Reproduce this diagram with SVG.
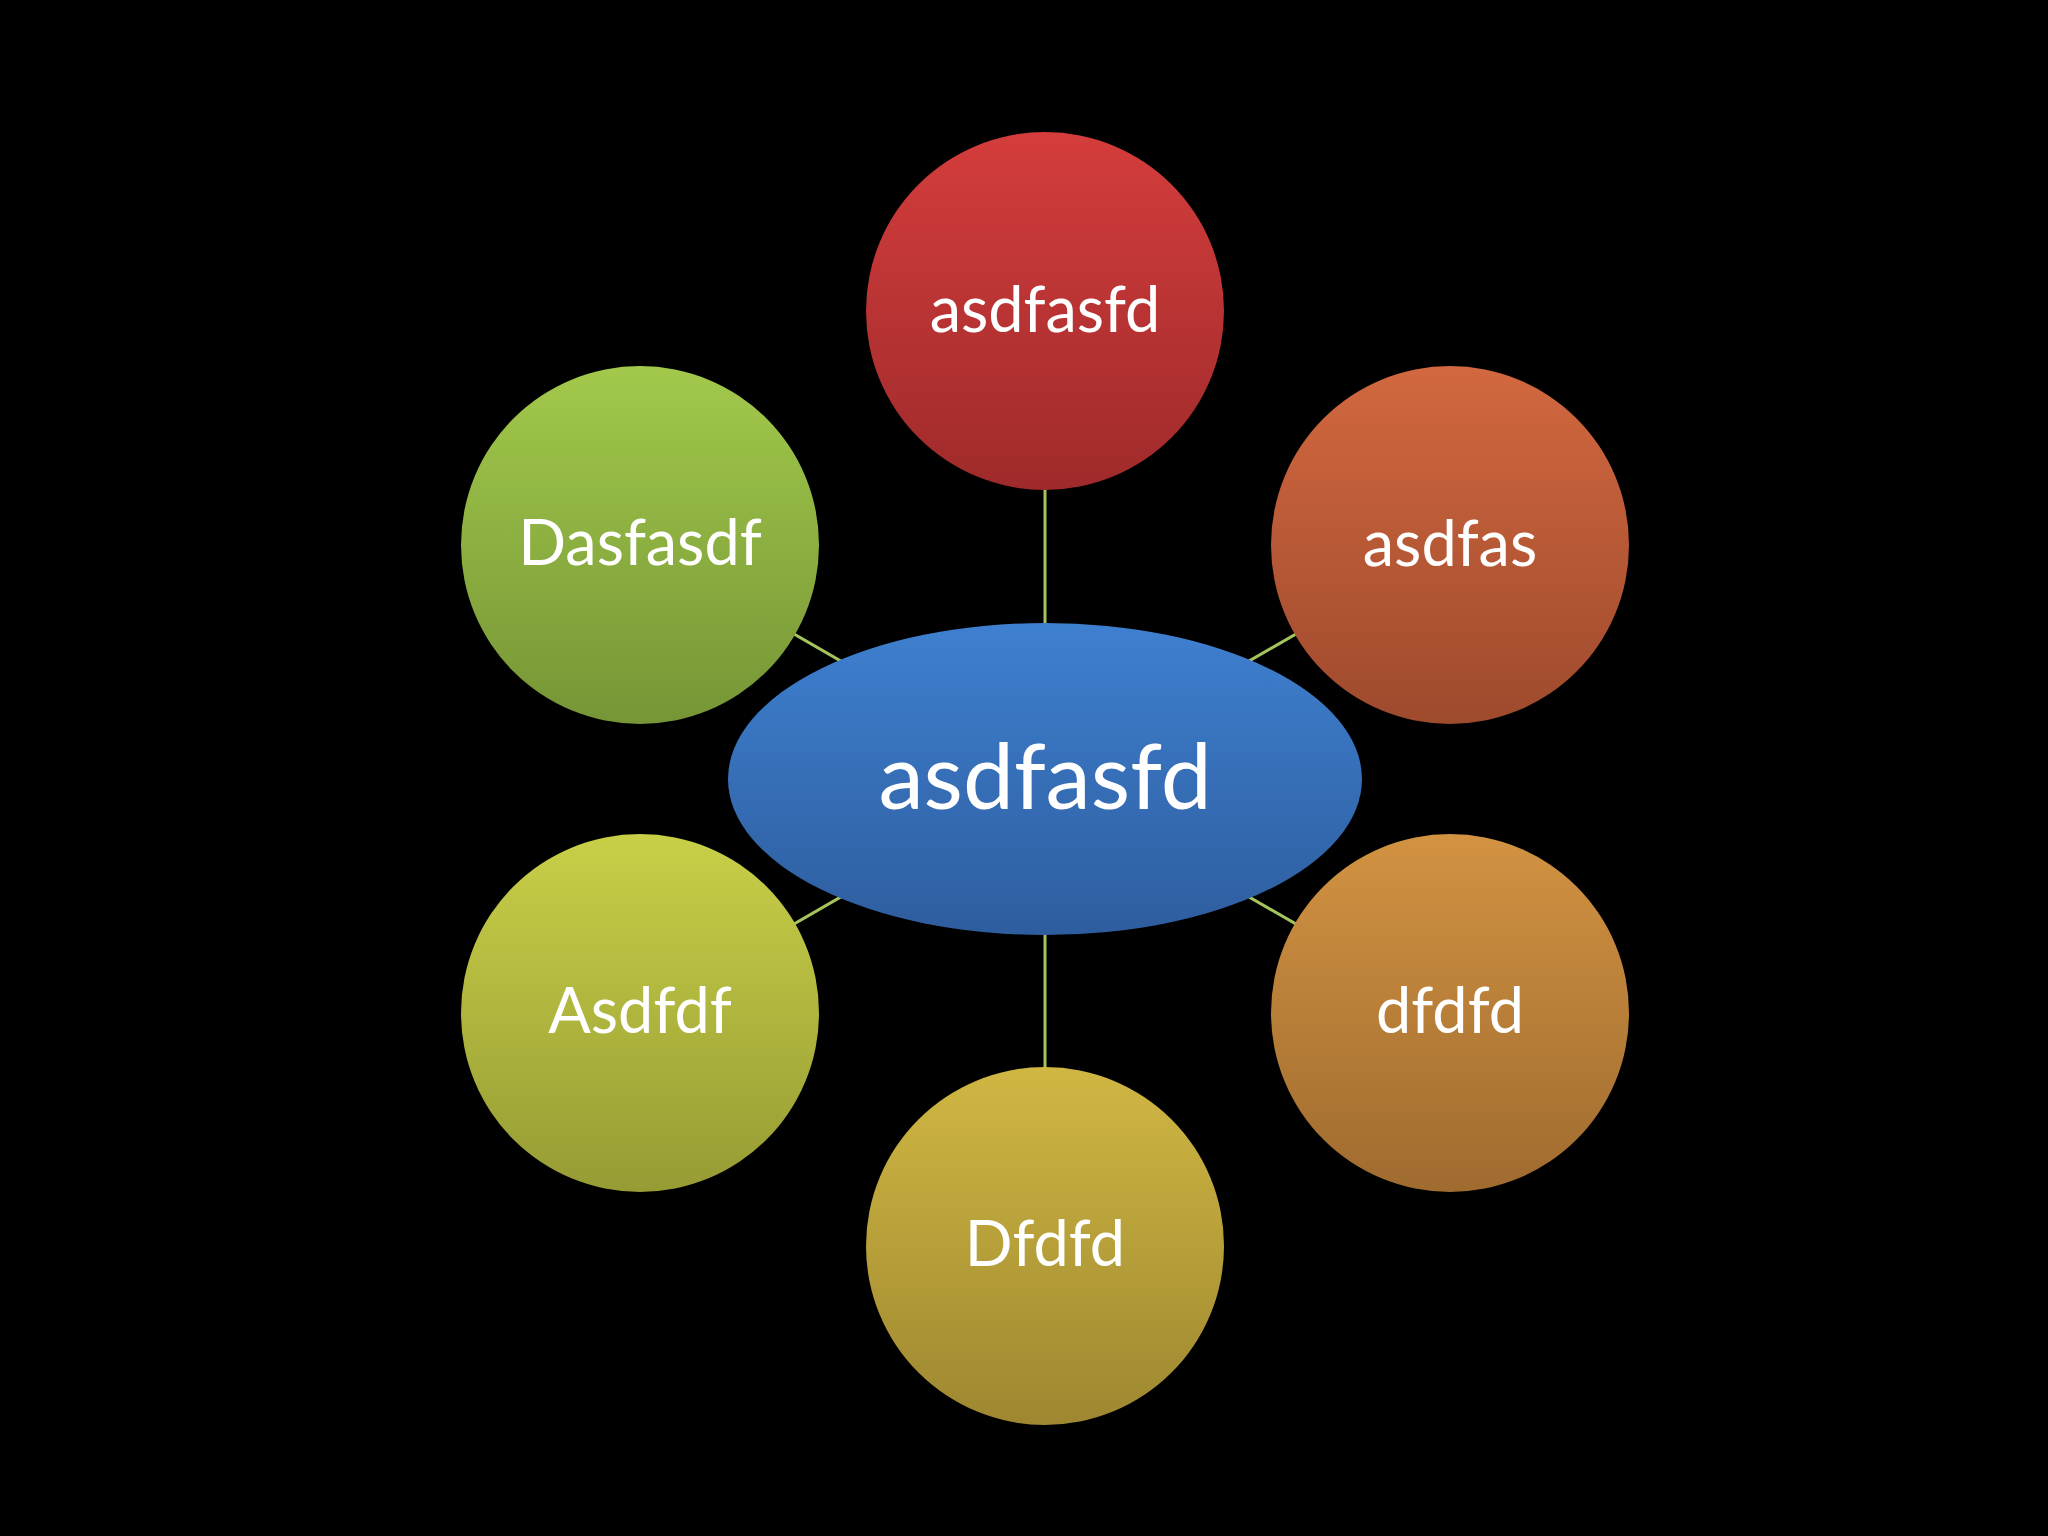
<svg xmlns="http://www.w3.org/2000/svg" width="2048" height="1536" viewBox="0 0 2048 1536">
<defs>
<linearGradient id="gBlue" x1="0" y1="0" x2="0" y2="1"><stop offset="0" stop-color="#3e80d0"/><stop offset="1" stop-color="#2e5d9e"/></linearGradient>
<linearGradient id="gRed" x1="0" y1="0" x2="0" y2="1"><stop offset="0" stop-color="#d43d3c"/><stop offset="1" stop-color="#9f2a2b"/></linearGradient>
<linearGradient id="gOrangeRed" x1="0" y1="0" x2="0" y2="1"><stop offset="0" stop-color="#d2683f"/><stop offset="1" stop-color="#9e4a2d"/></linearGradient>
<linearGradient id="gOrange" x1="0" y1="0" x2="0" y2="1"><stop offset="0" stop-color="#d29342"/><stop offset="1" stop-color="#9f6b2f"/></linearGradient>
<linearGradient id="gGold" x1="0" y1="0" x2="0" y2="1"><stop offset="0" stop-color="#d0b743"/><stop offset="1" stop-color="#9e8730"/></linearGradient>
<linearGradient id="gYellowGreen" x1="0" y1="0" x2="0" y2="1"><stop offset="0" stop-color="#c8cf47"/><stop offset="1" stop-color="#969c34"/></linearGradient>
<linearGradient id="gGreen" x1="0" y1="0" x2="0" y2="1"><stop offset="0" stop-color="#a2c94b"/><stop offset="1" stop-color="#769536"/></linearGradient>
</defs>
<style>
.conn{stroke:#a6c45c;stroke-width:3;fill:none}
.lbl{fill:#ffffff;font-family:Lato,"Open Sans","Liberation Sans",sans-serif;font-size:63px;text-anchor:middle}
.big{font-size:91px}
</style>
<rect width="2048" height="1536" fill="#000000"/>
<g id="connectors">
<line class="conn" x1="1045" y1="779" x2="1045" y2="311"/>
<line class="conn" x1="1045" y1="779" x2="1450" y2="545"/>
<line class="conn" x1="1045" y1="779" x2="1450" y2="1013"/>
<line class="conn" x1="1045" y1="779" x2="1045" y2="1246"/>
<line class="conn" x1="1045" y1="779" x2="640" y2="1013"/>
<line class="conn" x1="1045" y1="779" x2="640" y2="545"/>
</g>
<g id="node-top">
<circle cx="1045" cy="311" r="179" fill="url(#gRed)"/>
<text class="lbl" x="1045" y="332">asdfasfd</text>
</g>
<g id="node-right-top">
<circle cx="1450" cy="545" r="179" fill="url(#gOrangeRed)"/>
<text class="lbl" x="1450" y="566">asdfas</text>
</g>
<g id="node-right-bottom">
<circle cx="1450" cy="1013" r="179" fill="url(#gOrange)"/>
<text class="lbl" x="1450" y="1033">dfdfd</text>
</g>
<g id="node-bottom">
<circle cx="1045" cy="1246" r="179" fill="url(#gGold)"/>
<text class="lbl" x="1045" y="1266">Dfdfd</text>
</g>
<g id="node-left-bottom">
<circle cx="640" cy="1013" r="179" fill="url(#gYellowGreen)"/>
<text class="lbl" x="640" y="1033">Asdfdf</text>
</g>
<g id="node-left-top">
<circle cx="640" cy="545" r="179" fill="url(#gGreen)"/>
<text class="lbl" x="640" y="565">Dasfasdf</text>
</g>
<g id="node-center">
<ellipse cx="1045" cy="779" rx="317" ry="156" fill="url(#gBlue)"/>
<text class="lbl big" x="1045" y="809">asdfasfd</text>
</g>
</svg>
